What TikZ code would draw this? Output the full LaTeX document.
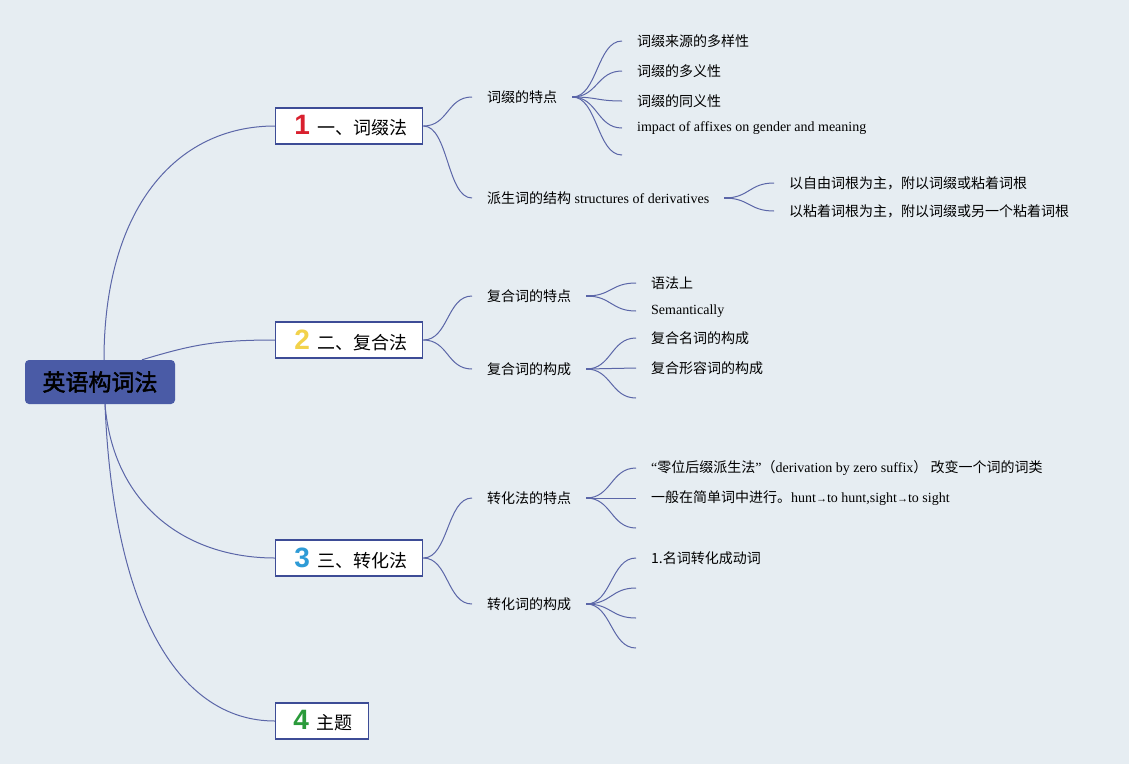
\documentclass[tikz,border=0pt]{standalone}
\usepackage{fontspec}
\setmainfont{Liberation Serif}
\newfontfamily\cjk{Noto Sans CJK SC}
\newfontfamily\cjkbold[FakeBold=2]{Noto Sans CJK SC}
\newfontfamily\numfont{Liberation Sans}
\definecolor{bgc}{HTML}{E6EDF2}
\definecolor{linec}{HTML}{5B66A8}
\definecolor{boxc}{HTML}{3D4C96}
\definecolor{rootc}{HTML}{4A5BA6}
\definecolor{cone}{HTML}{D9202E}
\definecolor{ctwo}{HTML}{F2D24B}
\definecolor{cthree}{HTML}{2E9BD6}
\definecolor{cfour}{HTML}{2A9A3A}
\newcommand\zh[1]{{\cjk\fontsize{14}{16}\selectfont #1}}
\newcommand\mmlabel[3]{{\numfont\bfseries\fontsize{28}{28}\selectfont\color{#1}#2}\hspace{8pt}{\cjk\fontsize{18}{20}\selectfont #3}}
\begin{document}
\begin{tikzpicture}[x=1pt,y=-1pt,
  conn/.style={draw=linec, line width=1pt},
  stub/.style={draw=linec, line width=2.2pt},
  br/.style={to path={.. controls +(25,0) and +(-25,0) .. (\tikztotarget)}},
  rootbox/.style={fill=rootc, rounded corners=4pt, minimum width=150pt, minimum height=44pt, inner sep=0pt, font=\cjkbold\fontsize{23}{26}\selectfont, text=black},
  mainbox/.style={draw=boxc, line width=1.4pt, fill=white, minimum height=36pt, inner sep=0pt, anchor=west},
  sub/.style={inner xsep=15pt, inner ysep=2pt, anchor=west, font=\fontsize{14}{16}\selectfont},
  leaf/.style={inner xsep=15pt, inner ysep=2pt, anchor=west, font=\fontsize{14}{16}\selectfont}
]
\fill[bgc] (0,0) rectangle (1129,764);
\useasboundingbox (0,0) rectangle (1129,764);

% root
\node[rootbox] (root) at (100,382) {英语构词法};

% main boxes
\node[mainbox, minimum width=147pt] (b1) at (275,126) {\hspace{4pt}\mmlabel{cone}{1}{一、词缀法}};
\node[mainbox, minimum width=147pt] (b2) at (275,340) {\hspace{4pt}\mmlabel{ctwo}{2}{二、复合法}};
\node[mainbox, minimum width=147pt] (b3) at (275,558) {\hspace{4pt}\mmlabel{cthree}{3}{三、转化法}};
\node[mainbox, minimum width=93pt] (b4) at (275,721) {\hspace{2pt}\mmlabel{cfour}{4}{主题}};

% root connectors
\draw[conn] ([xshift=4pt]root.north) .. controls +(0,-150) and +(-100,0) .. (b1.west);
\draw[conn] ([xshift=42pt]root.north) .. controls +(50,-15) and +(-60,0) .. (b2.west);
\draw[conn] ([xshift=5pt]root.south) .. controls +(8,100) and +(-90,0) .. (b3.west);
\draw[conn] ([xshift=5pt]root.south) .. controls +(8,200) and +(-100,0) .. (b4.west);

% branch 1
\node[sub] (s11) at (472,97) {\zh{词缀的特点}};
\node[sub] (s12) at (472,198) {\zh{派生词的结构} structures of derivatives};
\draw[conn] (b1.east) to[br] (s11.west);
\draw[conn] (b1.east) to[br] (s12.west);

\node[leaf] (l111) at (622,41) {\zh{词缀来源的多样性}};
\node[leaf] (l112) at (622,71) {\zh{词缀的多义性}};
\node[leaf] (l113) at (622,101) {\zh{词缀的同义性}};
\node[leaf] (l114) at (622,128) {impact of affixes on gender and meaning};
\coordinate (l115) at (622,155);
\foreach \t in {l111,l112,l113,l114} \draw[conn] (s11.east) to[br] (\t.west);
\draw[conn] (s11.east) to[br] (l115);
\draw[stub] (s11.east) -- ++(7,0);

\node[leaf] (l121) at (774,183) {\zh{以自由词根为主，附以词缀或粘着词根}};
\node[leaf] (l122) at (774,211) {\zh{以粘着词根为主，附以词缀或另一个粘着词根}};
\draw[conn] (s12.east) to[br] (l121.west);
\draw[conn] (s12.east) to[br] (l122.west);
\draw[stub] (s12.east) -- ++(7,0);

% branch 2
\node[sub] (s21) at (472,296) {\zh{复合词的特点}};
\node[sub] (s22) at (472,369) {\zh{复合词的构成}};
\draw[conn] (b2.east) to[br] (s21.west);
\draw[conn] (b2.east) to[br] (s22.west);

\node[leaf] (l211) at (636,283) {\zh{语法上}};
\node[leaf] (l212) at (636,311) {Semantically};
\draw[conn] (s21.east) to[br] (l211.west);
\draw[conn] (s21.east) to[br] (l212.west);
\draw[stub] (s21.east) -- ++(7,0);

\node[leaf] (l221) at (636,338) {\zh{复合名词的构成}};
\node[leaf] (l222) at (636,368) {\zh{复合形容词的构成}};
\coordinate (l223) at (636,398);
\draw[conn] (s22.east) to[br] (l221.west);
\draw[conn] (s22.east) to[br] (l222.west);
\draw[conn] (s22.east) to[br] (l223);
\draw[stub] (s22.east) -- ++(7,0);

% branch 3
\node[sub] (s31) at (472,498) {\zh{转化法的特点}};
\node[sub] (s32) at (472,604) {\zh{转化词的构成}};
\draw[conn] (b3.east) to[br] (s31.west);
\draw[conn] (b3.east) to[br] (s32.west);

\node[leaf] (l311) at (636,468) {“\zh{零位后缀派生法}”\zh{（}derivation by zero suffix\zh{） 改变一个词的词类}};
\node[leaf] (l312) at (636,498) {\zh{一般在简单词中进行。}hunt{\fontsize{11}{11}\selectfont →}to hunt,sight{\fontsize{11}{11}\selectfont →}to sight};
\coordinate (l313) at (636,528);
\draw[conn] (s31.east) to[br] (l311.west);
\draw[conn] (s31.east) to[br] (l312.west);
\draw[conn] (s31.east) to[br] (l313);
\draw[stub] (s31.east) -- ++(7,0);

\node[leaf] (l321) at (636,558) {\zh{1.名词转化成动词}};
\coordinate (l322) at (636,588);
\coordinate (l323) at (636,618);
\coordinate (l324) at (636,648);
\draw[conn] (s32.east) to[br] (l321.west);
\draw[conn] (s32.east) to[br] (l322);
\draw[conn] (s32.east) to[br] (l323);
\draw[conn] (s32.east) to[br] (l324);
\draw[stub] (s32.east) -- ++(7,0);
\end{tikzpicture}
\end{document}
